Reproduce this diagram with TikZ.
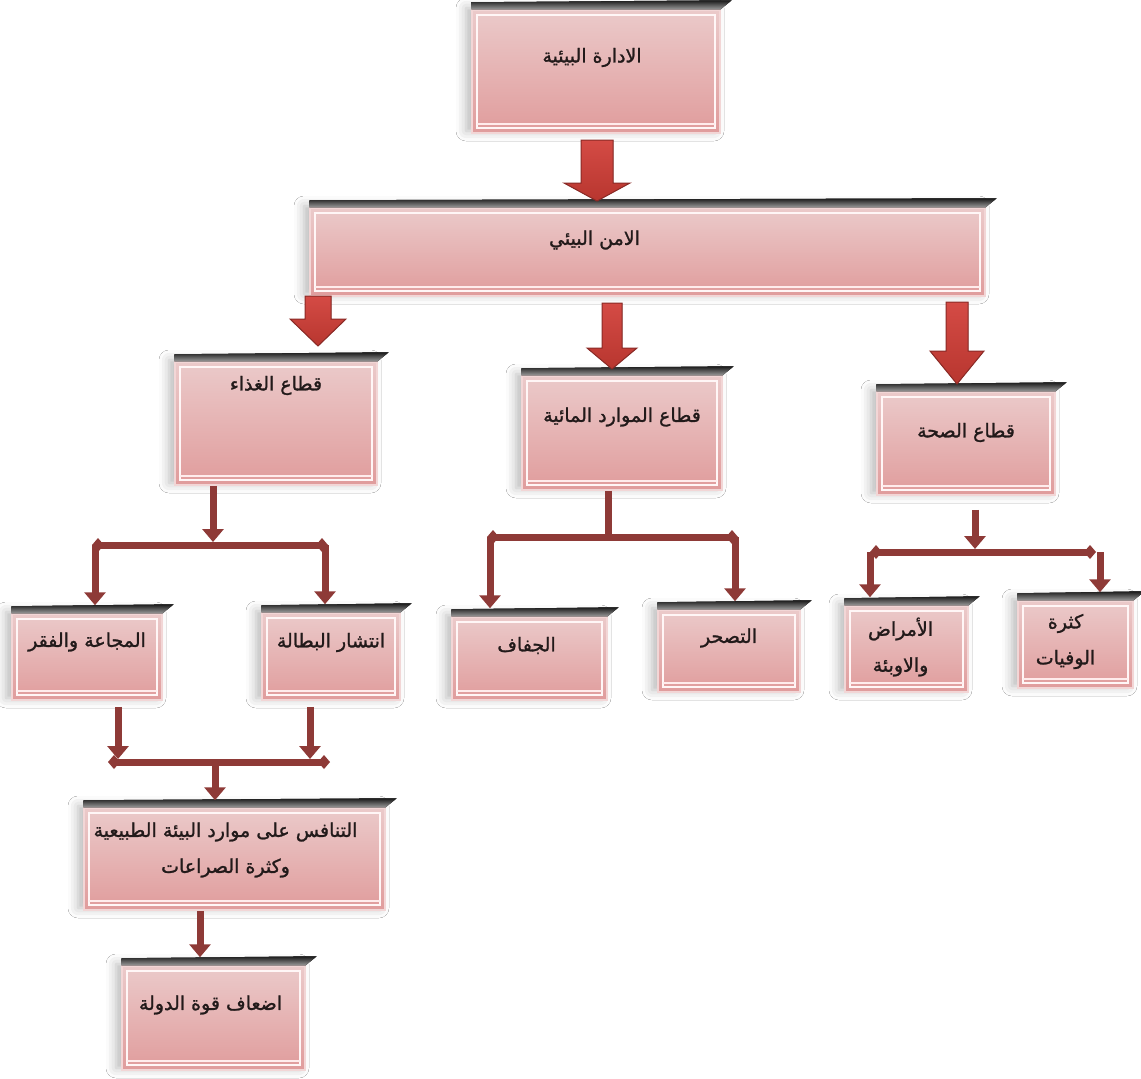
\documentclass[tikz,border=0pt]{standalone}
\usepackage{fontspec}
\newfontfamily\arabicfont[Script=Arabic,FakeBold=1.3]{DejaVu Sans}
\TeXXeTstate=1
\usetikzlibrary{calc,arrows.meta,shadows.blur}
\definecolor{pinkTop}{HTML}{EBCACA}
\definecolor{pinkBot}{HTML}{E09C9C}
\definecolor{boxline}{HTML}{F2D6D6}
\definecolor{conncol}{HTML}{8E3A37}
\definecolor{arrTop}{HTML}{D44B45}
\definecolor{arrBot}{HTML}{B8362F}
\definecolor{arrLine}{HTML}{8A2A26}
\definecolor{txtc}{HTML}{221A1A}
\tikzset{
 pbox/.style={rectangle, draw=boxline, line width=1.5pt, top color=pinkTop, bottom color=pinkBot, inner sep=0pt,
   blur shadow={shadow xshift=-6pt, shadow yshift=2pt, shadow blur radius=10pt, shadow opacity=28},
   path picture={
     \draw[white!85!pink, line width=1.2pt] ([xshift=5pt,yshift=-5pt]path picture bounding box.north west) rectangle ([xshift=-5pt,yshift=5pt]path picture bounding box.south east);
     \draw[white!70!pink, line width=1.6pt] ([xshift=5pt,yshift=9pt]path picture bounding box.south west) -- ([xshift=-5pt,yshift=9pt]path picture bounding box.south east);
   }},
 lbl/.style={font=\arabicfont\fontsize{19}{36}\selectfont, text=txtc, align=center, inner sep=1pt},
 conn/.style={draw=conncol, line width=7pt},
 tip/.style={-{Triangle[width=21pt,length=13pt]}},
 ends/.style={{Diamond[width=14pt,length=12pt]}-{Diamond[width=14pt,length=12pt]}},
 barfill/.style={top color=black!90, bottom color=black!40},
 barrow/.style={top color=arrTop, bottom color=arrBot, draw=arrLine, line width=1pt},
}
\newcommand\topbar[1]{\fill[barfill] ([yshift=7pt]#1.north west) -- ([xshift=11pt,yshift=9pt]#1.north east) -- (#1.north east) -- (#1.north west) -- cycle;}
\newcommand\blockarrow[5]{\filldraw[barrow] let \p1=(#1), \p2=(#2) in (\x1-#3pt,\y1) -- (\x1+#3pt,\y1) -- (\x1+#3pt,\y2+#5pt) -- (\x1+#4pt,\y2+#5pt) -- (\x1,\y2) -- (\x1-#4pt,\y2+#5pt) -- (\x1-#3pt,\y2+#5pt) -- cycle;}
\begin{document}
\begin{tikzpicture}[x=1pt,y=-1pt]
\fill[white] (0,0) rectangle (1141,1079);
\useasboundingbox (0,0) rectangle (1141,1079);

% boxes
\node[pbox, minimum width=248pt, minimum height=123pt] (adm) at (596,71.5) {};
\node[pbox, minimum width=675pt, minimum height=88pt] (amn) at (647.5,252) {};
\node[pbox, minimum width=202pt, minimum height=123pt] (food) at (276,423.5) {};
\node[pbox, minimum width=200pt, minimum height=114pt] (water) at (622,433) {};
\node[pbox, minimum width=178pt, minimum height=103pt] (health) at (966,443.5) {};
\node[pbox, minimum width=150pt, minimum height=86pt] (hunger) at (87,657) {};
\node[pbox, minimum width=138pt, minimum height=87pt] (unemp) at (331,656.5) {};
\node[pbox, minimum width=155pt, minimum height=83pt] (drought) at (529.5,658.5) {};
\node[pbox, minimum width=142pt, minimum height=82pt] (desert) at (729,651) {};
\node[pbox, minimum width=123pt, minimum height=86pt] (disease) at (906.5,649) {};
\node[pbox, minimum width=115pt, minimum height=87pt] (deaths) at (1075.5,644.5) {};
\node[pbox, minimum width=301pt, minimum height=102pt] (compet) at (234.5,859) {};
\node[pbox, minimum width=183pt, minimum height=104pt] (weaken) at (213.5,1018) {};

\foreach \b in {adm,amn,food,water,health,hunger,unemp,drought,desert,disease,deaths,compet,weaken}{\topbar{\b}}

% labels
\node[lbl] (adm-t) at ([xshift=-4pt,yshift=14pt]adm.center) {\beginR الادارة البيئية\endR};
\node[lbl] (amn-t) at ([xshift=-53pt,yshift=12pt]amn.center) {\beginR الامن البيئي\endR};
\node[lbl] (food-t) at ([yshift=38pt]food.center) {\beginR قطاع الغذاء\endR};
\node[lbl] (water-t) at ([yshift=16pt]water.center) {\beginR قطاع الموارد المائية\endR};
\node[lbl] (health-t) at ([yshift=11pt]health.center) {\beginR قطاع الصحة\endR};
\node[lbl] (hunger-t) at ([yshift=15pt]hunger.center) {\beginR المجاعة والفقر\endR};
\node[lbl] (unemp-t) at ([yshift=14pt]unemp.center) {\beginR انتشار البطالة\endR};
\node[lbl] (drought-t) at ([xshift=-3pt,yshift=13pt]drought.center) {\beginR الجفاف\endR};
\node[lbl] (desert-t) at ([yshift=13pt]desert.center) {\beginR التصحر\endR};
\node[lbl] (disease-t) at ([xshift=-6pt,yshift=2pt]disease.center) {\beginR الأمراض\endR\\\beginR والاوبئة\endR};
\node[lbl] (deaths-t) at ([xshift=-10pt,yshift=3pt]deaths.center) {\beginR كثرة\endR\\\beginR الوفيات\endR};
\node[lbl] (compet-t) at ([xshift=-9pt,yshift=9pt]compet.center) {\beginR التنافس على موارد البيئة الطبيعية\endR\\\beginR وكثرة الصراعات\endR};
\node[lbl] (weaken-t) at ([xshift=-3pt,yshift=13pt]weaken.center) {\beginR اضعاف قوة الدولة\endR};

% coordinates for connector joints
\coordinate (fb) at (213,545); \coordinate (fl) at (95,545); \coordinate (fr) at (325,545);
\coordinate (wb) at (608,537); \coordinate (wl) at (490,537); \coordinate (wr) at (735,537);
\coordinate (hb) at (975,552); \coordinate (hl) at (870,552); \coordinate (hr) at (1100,552);
\coordinate (lb) at (215,762); \coordinate (lbl) at (108,762); \coordinate (lbr) at (330,762);
\coordinate (v1) at (118,762); \coordinate (v2) at (310,762);
\coordinate (cw) at (200,912);

% food group
\draw[conn,tip] (fb |- food.south) -- ($(fb)+(0,-3)$);
\draw[conn,ends] ($(fl)+(-3,0)$) -- ($(fr)+(3,0)$);
\draw[conn,tip] (fl) -- ($(fl |- hunger.north)+(0,-8)$);
\draw[conn,tip] (fr) -- ($(fr |- unemp.north)+(0,-8)$);
% water group
\draw[conn] (wb |- water.south) -- (wb);
\draw[conn,ends] ($(wl)+(-3,0)$) -- ($(wr)+(3,0)$);
\draw[conn,tip] (wl) -- ($(wl |- drought.north)+(0,-8)$);
\draw[conn,tip] (wr) -- ($(wr |- desert.north)+(0,-8)$);
% health group
\draw[conn,tip] ($(hb |- health.south)+(0,14)$) -- ($(hb)+(0,-3)$);
\draw[conn,ends] ($(hl)+(0,0)$) -- ($(hr)+(-4,0)$);
\draw[conn,tip] (hl) -- ($(hl |- disease.north)+(0,-8)$);
\draw[conn,tip] (hr) -- ($(hr |- deaths.north)+(0,-8)$);
% lower group
\draw[conn,tip] ($(v1 |- hunger.south)+(0,6)$) -- ($(v1)+(0,-3)$);
\draw[conn,tip] ($(v2 |- unemp.south)+(0,6)$) -- ($(v2)+(0,-3)$);
\draw[conn,ends] (lbl) -- (lbr);
\draw[conn,tip] (lb) -- ($(lb |- compet.north)+(0,-7)$);
\draw[conn,tip] (cw |- compet.south) -- ($(cw |- weaken.north)+(0,-8)$);

% block arrows
\coordinate (a1s) at (597,140); \coordinate (a1e) at (597,201);
\coordinate (a2s) at (318,296); \coordinate (a2e) at (318,346);
\coordinate (a3s) at (612,303); \coordinate (a3e) at (612,369);
\coordinate (a4s) at (957,302); \coordinate (a4e) at (957,384);
\blockarrow{a1s}{a1e}{16}{33}{18}
\blockarrow{a2s}{a2e}{13}{28}{27}
\blockarrow{a3s}{a3e}{10}{25}{21}
\blockarrow{a4s}{a4e}{11}{27}{33}
\end{tikzpicture}
\end{document}
